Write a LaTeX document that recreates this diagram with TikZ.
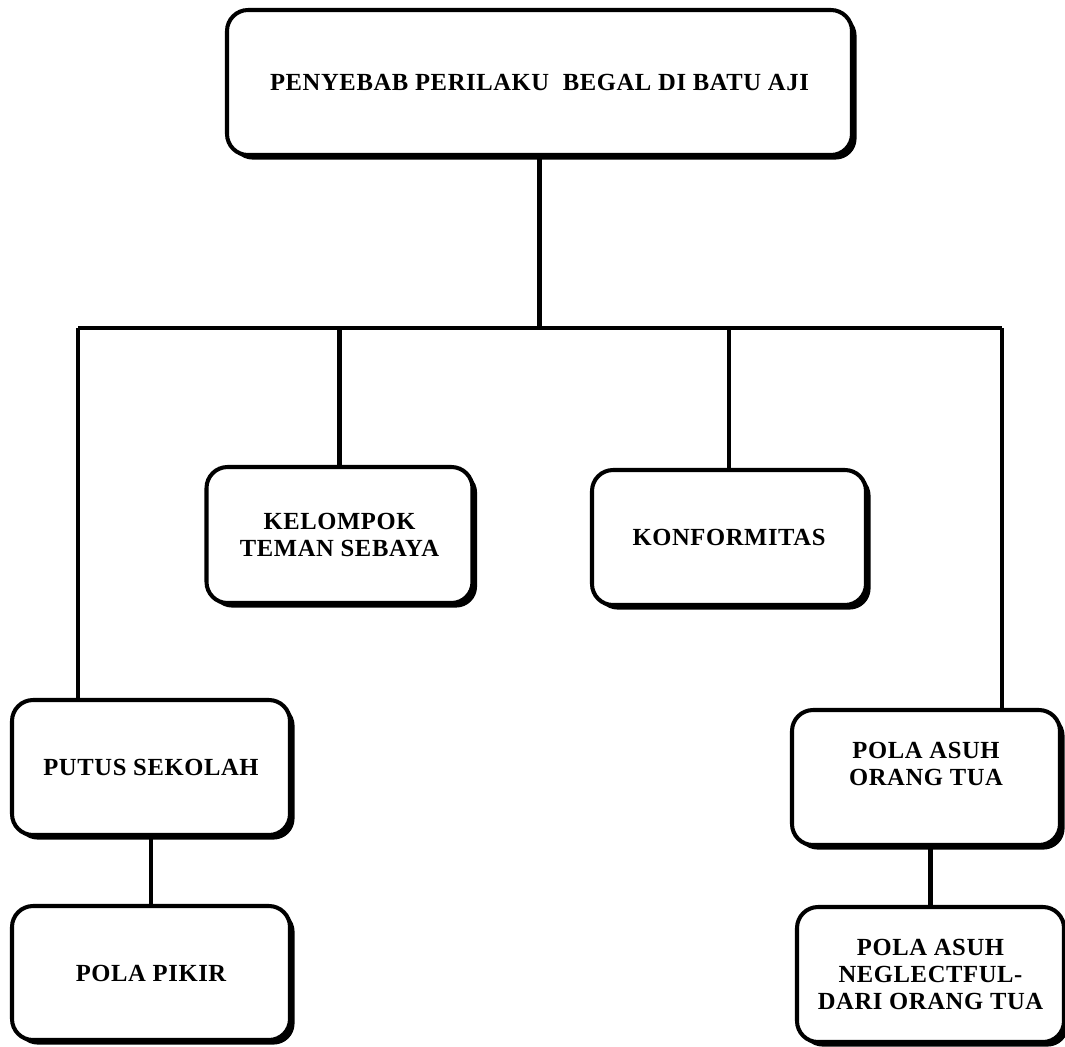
\documentclass[tikz,border=0pt]{standalone}
\usepackage{fontspec}
\setmainfont{Liberation Serif}[LetterSpace=2.5]
\usetikzlibrary{shadows}

\begin{document}
\begin{tikzpicture}[
    every node/.style={font=\fontsize{14}{15.5}\selectfont\bfseries},
    causebox/.style={draw, line width=2.3pt, rounded corners=12pt, fill=white, align=center,
      inner sep=0pt, drop shadow={shadow xshift=2.6pt, shadow yshift=-2.6pt, fill=black, opacity=1}},
    link/.style={line width=2.7pt}]
    \useasboundingbox (0,0) rectangle (21.3,-20.92);

    % Main cause
    \node[causebox, minimum width=12.5cm, minimum height=2.9cm] (top) at (10.79,-1.65)
      {PENYEBAB PERILAKU \ BEGAL DI BATU AJI};

    % Branch bar
    \coordinate (busL) at (1.56,-6.56);
    \coordinate (busR) at (20.04,-6.56);

    % Causes
    \node[causebox, minimum width=5.32cm, minimum height=2.72cm] (kelompok) at (6.79,-10.7)
      {KELOMPOK\\TEMAN SEBAYA};
    \node[causebox, minimum width=5.48cm, minimum height=2.7cm] (konform) at (14.58,-10.75)
      {KONFORMITAS};
    \node[causebox, minimum width=5.56cm, minimum height=2.7cm] (putus) at (3.02,-15.35)
      {PUTUS SEKOLAH};
    \node[causebox, minimum width=5.56cm, minimum height=2.68cm] (pikir) at (3.02,-19.46)
      {POLA PIKIR};
    \node[causebox, minimum width=5.36cm, minimum height=2.7cm] (asuh) at (18.52,-15.55)
      {POLA ASUH\\ORANG TUA\\ \mbox{}};
    \node[causebox, minimum width=5.34cm, minimum height=2.7cm] (neglect) at (18.61,-19.49)
      {POLA ASUH\\NEGLECTFUL-\\DARI ORANG TUA};

    % Connectors
    \draw[link] (top.south) -- (top.south |- busL);
    \draw[link] (busL) -- (busR);
    \draw[link] (busL) -- (busL |- putus.north);
    \draw[link] (kelompok.north) -- (kelompok.north |- busL);
    \draw[link] (konform.north) -- (konform.north |- busL);
    \draw[link] (busR) -- (busR |- asuh.north);
    \draw[link] (putus.south) -- (pikir.north);
    \draw[link] (neglect.north |- asuh.south) -- (neglect.north);
\end{tikzpicture}
\end{document}
